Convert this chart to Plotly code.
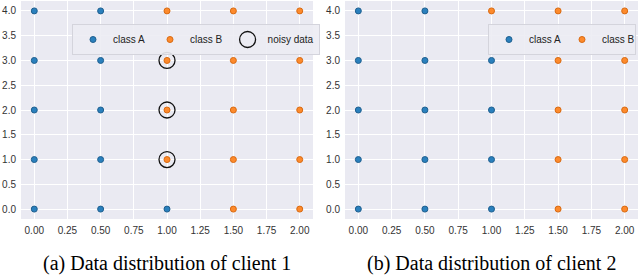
import plotly.graph_objects as go

# ---- data ----
# client 1
c1_A_x = [0, 0, 0, 0, 0, 0.5, 0.5, 0.5, 0.5, 0.5, 1.0]
c1_A_y = [0, 1, 2, 3, 4, 0, 1, 2, 3, 4, 0]
c1_B_x = [1.0, 1.0, 1.0, 1.0, 1.5, 1.5, 1.5, 1.5, 1.5, 2.0, 2.0, 2.0, 2.0, 2.0]
c1_B_y = [1, 2, 3, 4, 0, 1, 2, 3, 4, 0, 1, 2, 3, 4]
c1_noisy_x = [1.0, 1.0, 1.0]
c1_noisy_y = [1, 2, 3]
# client 2
c2_A_x = [0, 0, 0, 0, 0, 0.5, 0.5, 0.5, 0.5, 0.5, 1.0, 1.0, 1.0, 1.0]
c2_A_y = [0, 1, 2, 3, 4, 0, 1, 2, 3, 4, 0, 1, 2, 3]
c2_B_x = [1.0, 1.5, 1.5, 1.5, 1.5, 1.5, 2.0, 2.0, 2.0, 2.0, 2.0]
c2_B_y = [4, 0, 1, 2, 3, 4, 0, 1, 2, 3, 4]

captions = ["(a) Data distribution of client 1", "(b) Data distribution of client 2"]

BLUE = "#2a80bd"
BLUE_EDGE = "#1f5f8f"
ORANGE = "#fd8a2c"
ORANGE_EDGE = "#d86a12"
BG = "#EAEAF2"
W, H = 640, 277

fig = go.Figure()

def pts(x, y, color, edge, name, xa, ya, leg):
    return go.Scatter(x=x, y=y, mode="markers", name=name, xaxis=xa, yaxis=ya,
                      legend=leg,
                      marker=dict(size=6, color=color, line=dict(width=1, color=edge)))

fig.add_trace(pts(c1_A_x, c1_A_y, BLUE, BLUE_EDGE, "class A", "x", "y", "legend"))
fig.add_trace(pts(c1_B_x, c1_B_y, ORANGE, ORANGE_EDGE, "class B", "x", "y", "legend"))
fig.add_trace(go.Scatter(x=c1_noisy_x, y=c1_noisy_y, mode="markers", name="noisy data",
                         xaxis="x", yaxis="y", legend="legend",
                         marker=dict(symbol="circle-open", size=16, color="#111111",
                                     line=dict(width=1.3, color="#111111"))))
fig.add_trace(pts(c2_A_x, c2_A_y, BLUE, BLUE_EDGE, "class A", "x2", "y2", "legend2"))
fig.add_trace(pts(c2_B_x, c2_B_y, ORANGE, ORANGE_EDGE, "class B", "x2", "y2", "legend2"))

tickfont = dict(family="Liberation Sans, Arial, sans-serif", size=10, color="#333333")
ydom = [1 - 219 / H, 1 - 1 / H]

def xax(dom, anchor):
    return dict(domain=dom, anchor=anchor, range=[-0.1, 2.1], dtick=0.25, tick0=0,
                tickformat=".2f", showgrid=True, gridcolor="white", gridwidth=1,
                zeroline=False, showline=False, ticks="", tickfont=tickfont,
                ticklabelstandoff=4)

def yax(anchor):
    return dict(domain=ydom, anchor=anchor, range=[-0.2, 4.2], dtick=0.5, tick0=0,
                tickformat=".1f", showgrid=True, gridcolor="white", gridwidth=1,
                zeroline=False, showline=False, ticks="", tickfont=tickfont,
                ticklabelstandoff=4)

legfont = dict(family="Liberation Sans, Arial, sans-serif", size=10, color="#222222")

fig.update_layout(
    width=W, height=H,
    margin=dict(l=0, r=0, t=0, b=0),
    paper_bgcolor="white", plot_bgcolor=BG,
    xaxis=xax([21 / W, 313 / W], "y"),
    yaxis=yax("x"),
    xaxis2=xax([345 / W, 638 / W], "y2"),
    yaxis2=yax("x2"),
    legend=dict(orientation="h", x=72 / W, y=1 - 24 / H, xanchor="left", yanchor="top",
                bgcolor="rgba(236,236,243,0.9)", bordercolor="#d4d4dc", borderwidth=1,
                font=legfont, itemsizing="trace", tracegroupgap=0),
    legend2=dict(orientation="h", x=488 / W, y=1 - 24 / H, xanchor="left", yanchor="top",
                 bgcolor="rgba(236,236,243,0.9)", bordercolor="#d4d4dc", borderwidth=1,
                 font=legfont, itemsizing="trace", tracegroupgap=0, entrywidth=28),
    showlegend=True,
)

cx = [(21 + 313) / 2 / W, (345 + 638) / 2 / W]
for c, t in zip(cx, captions):
    fig.add_annotation(x=c, y=(H - 263) / H, xref="paper", yref="paper", text=t,
                       showarrow=False, xanchor="center", yanchor="middle",
                       font=dict(family="Liberation Serif, Times New Roman, serif",
                                 size=20, color="black"))

fig.write_html("out.html", config={"displayModeBar": False},
               post_script="document.body.style.margin='0';")
